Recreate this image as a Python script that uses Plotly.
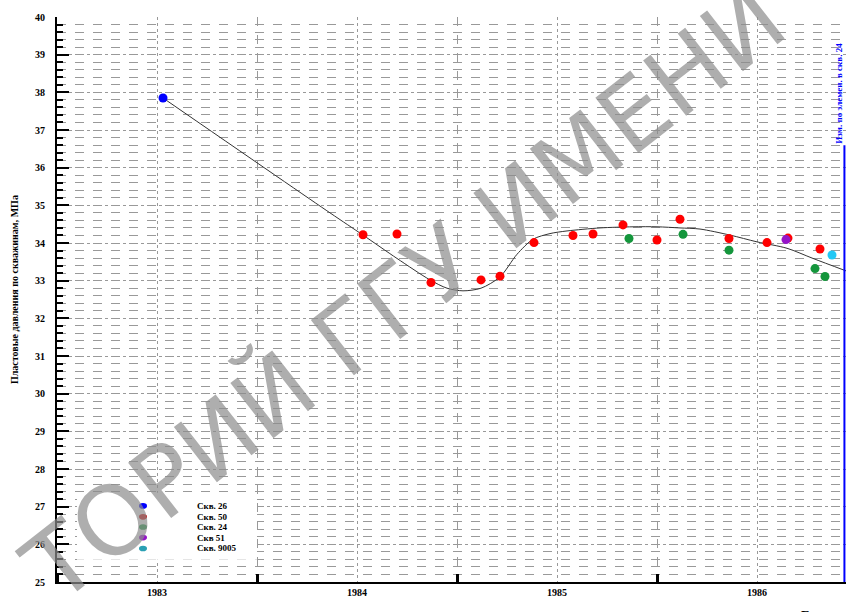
import plotly.graph_objects as go

# ---- data ----
years_26 = [1983.53]
p_26 = [37.85]

years_50 = [1984.53, 1984.70, 1984.87, 1985.12, 1985.215, 1985.385, 1985.58, 1985.68,
            1985.83, 1986.00, 1986.115, 1986.36, 1986.55, 1986.655, 1986.815]
p_50 = [34.22, 34.24, 32.95, 33.02, 33.12, 34.01, 34.20, 34.24,
        34.48, 34.08, 34.63, 34.12, 34.01, 34.13, 33.84]

years_24 = [1985.86, 1986.13, 1986.36, 1986.79, 1986.84]
p_24 = [34.12, 34.23, 33.81, 33.32, 33.11]

years_51 = [1986.645]
p_51 = [34.09]

years_9005 = [1986.875]
p_9005 = [33.68]

trend_years = [1983.53, 1984.365, 1984.53, 1984.70, 1984.865, 1984.95, 1985.03, 1985.12,
               1985.215, 1985.30, 1985.38, 1985.465, 1985.55, 1985.715, 1985.88, 1986.00,
               1986.115, 1986.215, 1986.365, 1986.50, 1986.65, 1986.78, 1986.945]
trend_p = [37.85, 34.80, 34.21, 33.59, 33.02, 32.80, 32.73, 32.80,
           33.10, 33.70, 34.10, 34.25, 34.32, 34.40, 34.43, 34.43,
           34.40, 34.37, 34.21, 34.03, 33.86, 33.59, 33.26]

year_labels = ["1983", "1984", "1985", "1986"]
label_pos = [1983.5, 1984.5, 1985.5, 1986.5]

series_names = ["Скв. 26", "Скв. 50", "Скв. 24", "Скв 51", "Скв. 9005"]
series_colors = ["#0000ff", "#ff0000", "#14963c", "#9414c8", "#22c8f5"]
legend_colors = ["#0000ff", "#d00000", "#14963c", "#9414c8", "#2aa0b4"]

SERIF = "Liberation Serif"

fig = go.Figure()

fig.add_trace(go.Scatter(x=trend_years, y=trend_p, mode="lines",
                         line=dict(color="#333333", width=1, shape="spline", smoothing=0.8),
                         showlegend=False, hoverinfo="skip"))

for xs, ys, name, col in [(years_26, p_26, series_names[0], series_colors[0]),
                          (years_50, p_50, series_names[1], series_colors[1]),
                          (years_24, p_24, series_names[2], series_colors[2]),
                          (years_51, p_51, series_names[3], series_colors[3]),
                          (years_9005, p_9005, series_names[4], series_colors[4])]:
    fig.add_trace(go.Scatter(x=xs, y=ys, mode="markers", name=name,
                             marker=dict(color=col, size=9, line=dict(width=0)),
                             showlegend=False))

# custom legend box
fig.add_shape(type="rect", xref="x", yref="y", x0=1983.1, x1=1984.0, y0=25.59, y1=27.37,
              fillcolor="white", line=dict(width=0), layer="above")
leg_y = [27.02, 26.73, 26.46, 26.18, 25.89]
for i, name in enumerate(series_names):
    fig.add_shape(type="circle", xref="x", yref="y", x0=1983.41, x1=1983.45,
                  y0=leg_y[i] - 0.075, y1=leg_y[i] + 0.075,
                  fillcolor=legend_colors[i], line=dict(width=0), layer="above")
    fig.add_annotation(x=1983.69, y=leg_y[i], xref="x", yref="y", text=name, showarrow=False,
                       font=dict(family=SERIF, color="black", size=9, weight="bold"),
                       xanchor="left", yanchor="middle")

# axis titles
fig.add_annotation(x=-0.053, y=0.517, xref="paper", yref="paper",
                   text="Пластовые давления по скважинам, МПа", textangle=-90, showarrow=False,
                   font=dict(family=SERIF, size=10, color="black", weight="bold"),
                   xanchor="center", yanchor="middle")
fig.add_annotation(x=0.962, y=-0.04, xref="paper", yref="paper", text="Годы", showarrow=False,
                   font=dict(family=SERIF, size=13, color="black", weight="bold"),
                   xanchor="center", yanchor="top")
fig.add_annotation(x=0.991, y=0.773, xref="paper", yref="paper",
                   text="Изм. по элемен. в скв. 24", textangle=-90, showarrow=False,
                   font=dict(family=SERIF, size=9, color="#0000ff", weight="bold"),
                   xanchor="center", yanchor="bottom")
fig.add_shape(type="line", xref="paper", yref="paper", x0=0.998, x1=0.998, y0=0, y1=0.773,
              line=dict(color="#0000ff", width=2))

# watermark
fig.add_annotation(x=0.44, y=0.51, xref="paper", yref="paper", text="ТОРИЙ ГГУ ИМЕНИ",
                   textangle=-38, showarrow=False,
                   font=dict(family="DejaVu Sans", size=96, color="rgba(140,140,140,0.7)"),
                   xanchor="center", yanchor="middle")

fig.update_xaxes(range=[1983.0, 1986.945], tickvals=label_pos, ticktext=year_labels,
                 ticks="", showline=True, linecolor="black", linewidth=2, mirror=False,
                 showgrid=True, gridcolor="#999999", griddash="dot", gridwidth=1,
                 tickfont=dict(family=SERIF, size=10, color="black", weight="bold"),
                 zeroline=False,
                 minor=dict(tick0=1983, dtick=1, ticks="inside", ticklen=8, tickwidth=3,
                            tickcolor="black", showgrid=True, gridcolor="#999999",
                            griddash="dash", gridwidth=1))
fig.update_yaxes(range=[25, 40], dtick=1, tick0=25, ticks="inside", ticklen=12, tickwidth=2,
                 tickcolor="black", showline=True, linecolor="black", linewidth=2,
                 showgrid=True, gridcolor="#999999", griddash="dashdot", gridwidth=1,
                 tickfont=dict(family=SERIF, size=10, color="black", weight="bold"),
                 ticklabelstandoff=8, zeroline=False,
                 minor=dict(dtick=0.2, ticks="inside", ticklen=6, tickwidth=1.5,
                            tickcolor="black", showgrid=True, gridcolor="#999999",
                            griddash="dash", gridwidth=1))

fig.update_layout(width=847, height=612, margin=dict(l=57, r=1, t=17, b=30),
                  plot_bgcolor="white", paper_bgcolor="white", showlegend=False)

fig.write_html("out.html", config={"displayModeBar": False},
               post_script="document.body.style.margin='0';document.body.style.overflow='hidden';")
